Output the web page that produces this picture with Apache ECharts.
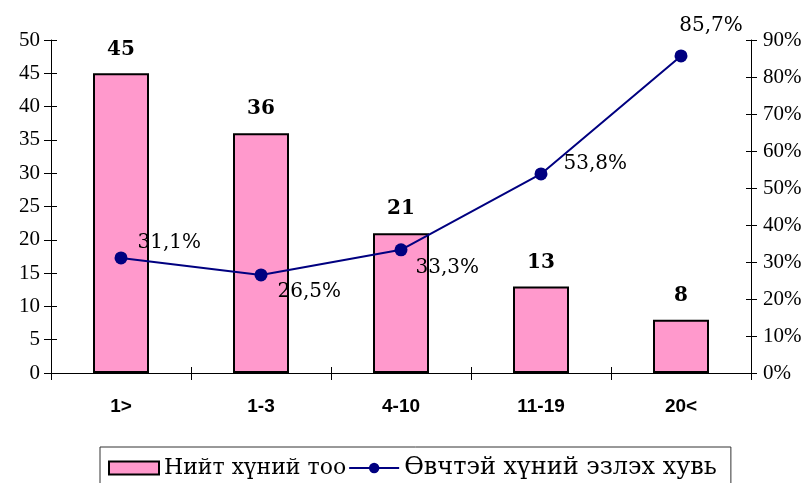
<!DOCTYPE html>
<html>
<head>
<meta charset="utf-8">
<script src="https://cdn.jsdelivr.net/npm/echarts@6/dist/echarts.min.js"></script>
<style>html,body{margin:0;padding:0;background:#fff;}#c{width:806px;height:483px;}</style>
</head>
<body>
<div id="c"></div>
<script>
const categories = ['1>', '1-3', '4-10', '11-19', '20<'];
const totalPeople = [45, 36, 21, 13, 8];
const sickShare = [31.1, 26.5, 33.3, 53.8, 85.7];
const sickLabels = ['31,1%', '26,5%', '33,3%', '53,8%', '85,7%'];
const leftTicks = [0, 50, 5];
const rightTicks = [0, 90, 10];
const seriesNames = ['Нийт хүний тоо', 'Өвчтэй хүний эзлэх хувь'];

const serif = '"Liberation Serif", "Times New Roman", serif';
const wideSerif = '"DejaVu Serif", "Liberation Serif", serif';
const sans = '"Liberation Sans", Arial, sans-serif';

const labelPlacement = [
  {position: 'right', distance: 10, offset: [0, -15]},
  {position: 'right', distance: 10, offset: [0, 17]},
  {position: 'right', distance: 8, offset: [0, 18]},
  {position: 'right', distance: 16, offset: [0, -10]},
  {position: 'top', distance: 14, offset: [30, 0]}
];

const chart = echarts.init(document.getElementById('c'), null, {renderer: 'canvas'});
const baseY = {
  type: 'value', splitLine: {show: false},
  axisLine: {show: true, lineStyle: {color: '#000', width: 1}}
};
chart.setOption({
  animation: false,
  backgroundColor: '#fff',
  grid: {left: 51, right: 55, top: 40, bottom: 110, containLabel: false},
  legend: {
    left: 100, top: 447,
    padding: [9, 14, 20, 8],
    borderColor: '#333', borderWidth: 1,
    itemWidth: 50, itemHeight: 13, itemGap: 2,
    formatter: function (name) { return name === seriesNames[0] ? '{a|' + name + '}' : '{b|' + name + '}'; },
    textStyle: {
      fontFamily: wideSerif, fontSize: 22, color: '#000',
      rich: {
        a: {fontFamily: wideSerif, fontSize: 22, color: '#000', width: 184},
        b: {fontFamily: wideSerif, fontSize: 24, color: '#000', width: 312}
      }
    },
    data: [{name: seriesNames[0], icon: 'rect'}, {name: seriesNames[1]}]
  },
  xAxis: [{
    type: 'category', data: categories, boundaryGap: true,
    axisLine: {lineStyle: {color: '#000', width: 1}},
    axisTick: {show: true, length: 7, lineStyle: {color: '#000'}},
    axisLabel: {fontFamily: sans, fontWeight: 'bold', fontSize: 19, color: '#000', margin: 24}
  }, {
    type: 'category', data: categories, position: 'bottom', boundaryGap: true,
    axisLine: {show: false},
    axisTick: {show: true, inside: true, length: 6, lineStyle: {color: '#000'}},
    axisLabel: {show: false}
  }],
  yAxis: [
    Object.assign({}, baseY, {
      position: 'left', min: leftTicks[0], max: leftTicks[1], interval: leftTicks[2],
      axisTick: {show: true, length: 7, lineStyle: {color: '#000'}},
      axisLabel: {fontFamily: serif, fontSize: 21, color: '#000', margin: 11}
    }),
    Object.assign({}, baseY, {
      position: 'right', min: rightTicks[0], max: rightTicks[1], interval: rightTicks[2],
      axisTick: {show: true, length: 6, lineStyle: {color: '#000'}},
      axisLabel: {fontFamily: serif, fontSize: 21, color: '#000', margin: 12, formatter: '{value}%'}
    }),
    Object.assign({}, baseY, {
      position: 'left', min: leftTicks[0], max: leftTicks[1], interval: leftTicks[2],
      axisLine: {show: false},
      axisTick: {show: true, inside: true, length: 6, lineStyle: {color: '#000'}},
      axisLabel: {show: false}
    }),
    Object.assign({}, baseY, {
      position: 'right', min: rightTicks[0], max: rightTicks[1], interval: rightTicks[2],
      axisLine: {show: false},
      axisTick: {show: true, inside: true, length: 5, lineStyle: {color: '#000'}},
      axisLabel: {show: false}
    })
  ],
  series: [{
    name: seriesNames[0], type: 'bar', data: totalPeople,
    xAxisIndex: 0, yAxisIndex: 0, barWidth: '40%',
    itemStyle: {color: '#FF99CC', borderColor: '#000', borderWidth: 2},
    label: {show: true, position: 'top', distance: 14, fontFamily: wideSerif, fontWeight: 'bold', fontSize: 20, color: '#000'},
    z: 2
  }, {
    name: seriesNames[1], type: 'line', yAxisIndex: 1,
    data: sickShare.map((v, i) => ({
      value: v,
      label: Object.assign({show: true, formatter: sickLabels[i]}, labelPlacement[i])
    })),
    symbol: 'circle', symbolSize: 13,
    lineStyle: {color: '#000080', width: 2},
    itemStyle: {color: '#000080'},
    label: {fontFamily: wideSerif, fontSize: 20, color: '#000'},
    z: 3
  }]
});
</script>
</body>
</html>
